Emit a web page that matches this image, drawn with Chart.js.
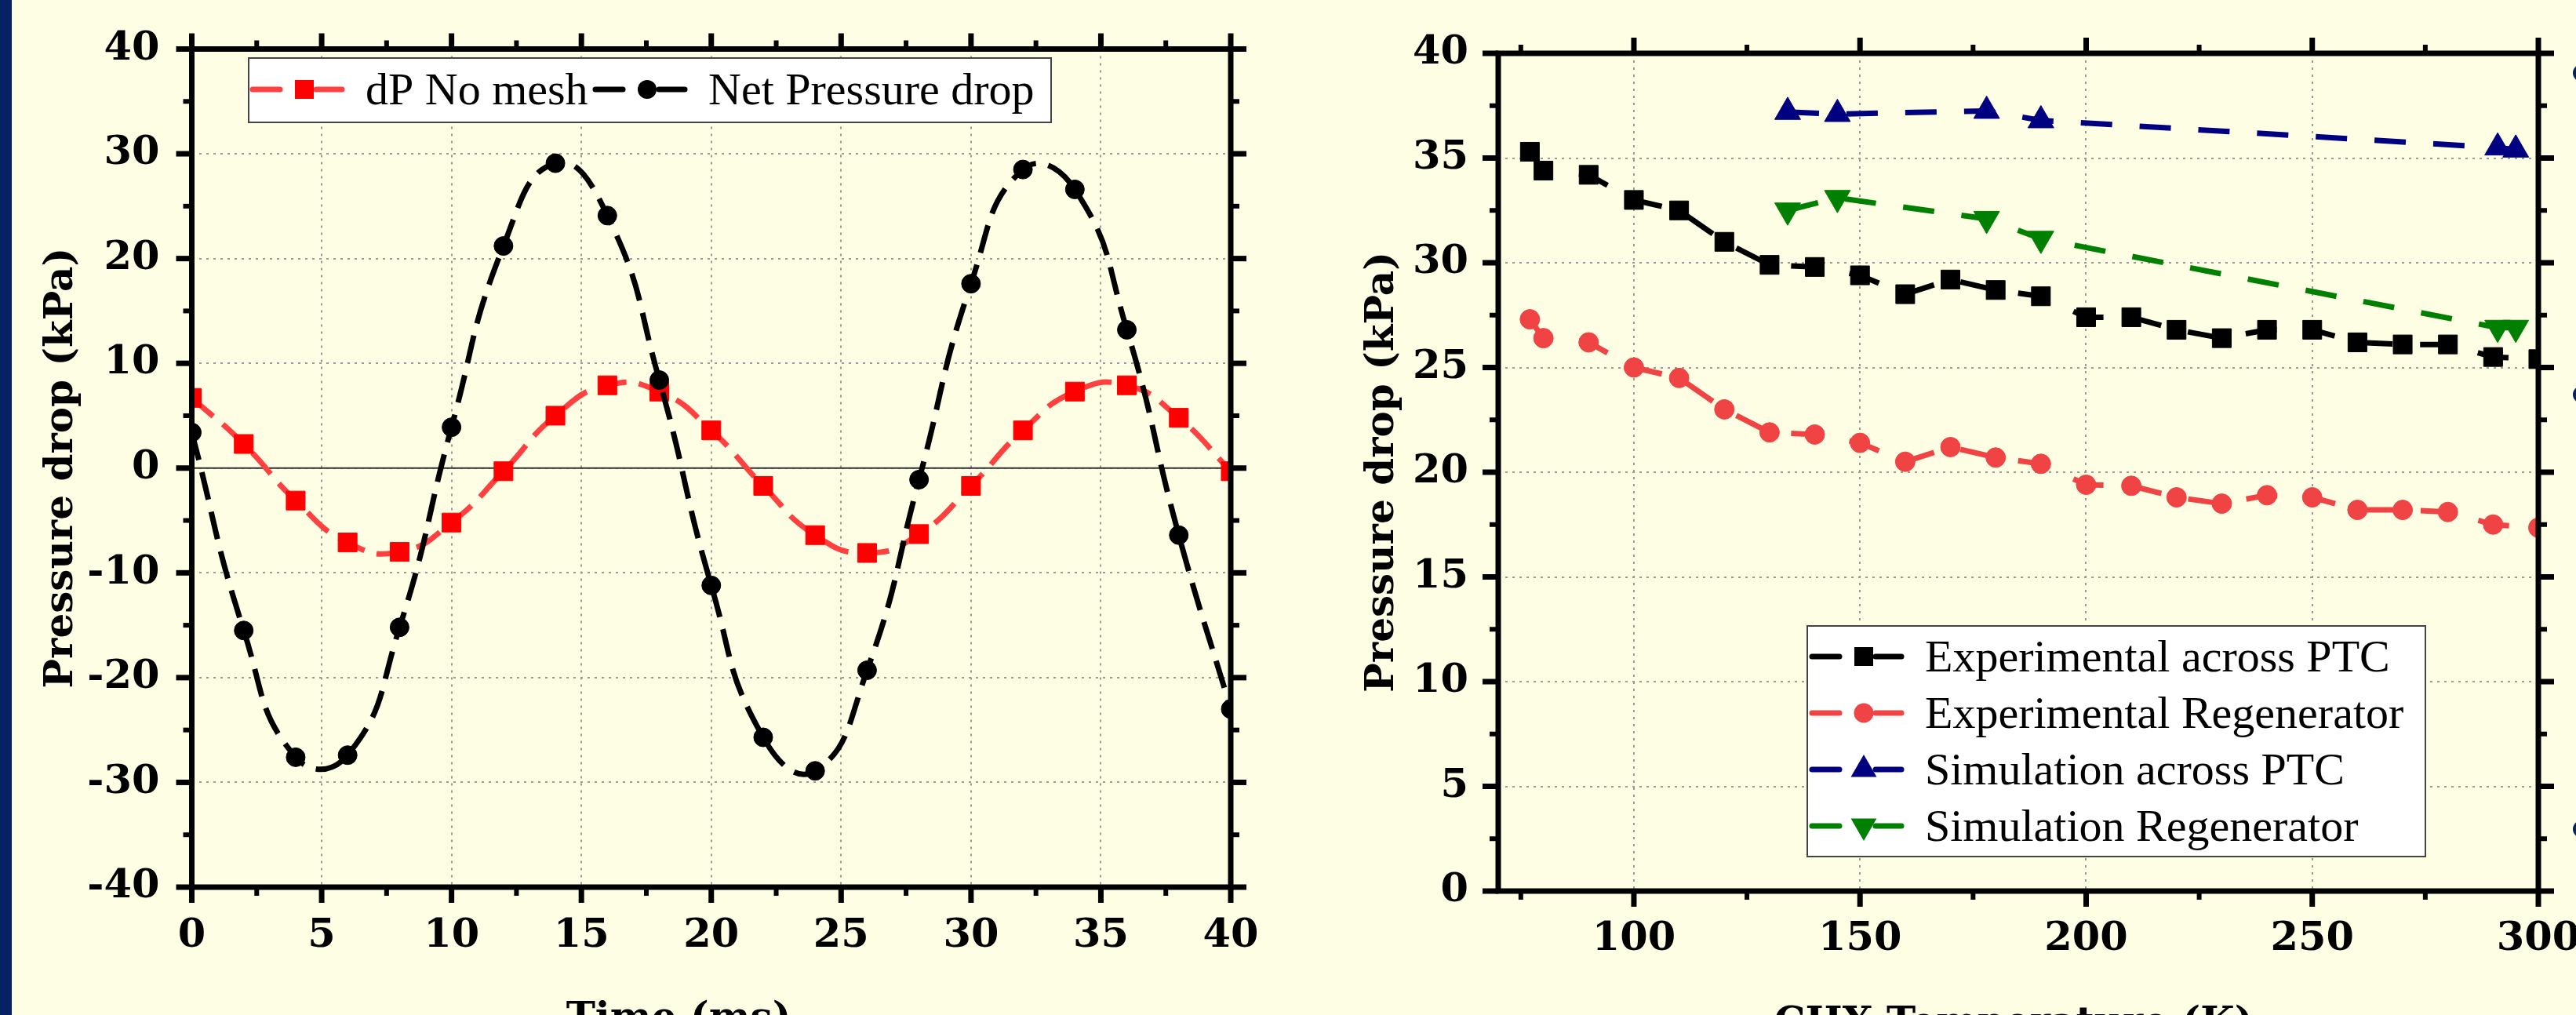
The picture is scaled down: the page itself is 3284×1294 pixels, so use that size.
<!DOCTYPE html>
<html>
<head>
<meta charset="utf-8">
<title>Pressure drop</title>
<script src="https://cdn.jsdelivr.net/npm/chart.js@4.4.1/dist/chart.umd.min.js"></script>
<style>
  html, body { margin: 0; padding: 0; width: 3284px; height: 1294px; overflow: hidden; background: #FEFEE5; }
  canvas { position: absolute; top: 0; }
  #timeChart { left: 0; }
  #tempChart { left: 1642px; }
  #strip { position: absolute; left: 0; top: 0; width: 15px; height: 1294px; background: #082163; }
  .bullet { position: absolute; left: 3280px; width: 22px; height: 22px; border-radius: 50%; background: #082163; }
</style>
</head>
<body>
<canvas id="timeChart" width="1642" height="1294"></canvas>
<canvas id="tempChart" width="1642" height="1294"></canvas>
<div id="strip"></div>
<div class="bullet" style="top:82px"></div>
<div class="bullet" style="top:492px"></div>
<div class="bullet" style="top:1046px"></div>
<script>
// left chart: pressure drop vs time
const timeMs = [0, 2, 4, 6, 8, 10, 12, 14, 16, 18, 20, 22, 24, 26, 28, 30, 32, 34, 36, 38, 40];
const dpNoMesh = [6.7, 2.3, -3.1, -7.1, -8.0, -5.2, -0.3, 5.0, 7.9, 7.3, 3.6, -1.7, -6.4, -8.1, -6.3, -1.7, 3.6, 7.3, 7.9, 4.8, -0.3];
const netPressureDrop = [3.4, -15.5, -27.6, -27.4, -15.2, 3.9, 21.2, 29.1, 24.1, 8.4, -11.2, -25.7, -28.9, -19.3, -1.1, 17.6, 28.5, 26.6, 13.2, -6.4, -23.0];
const timeTicks = [0, 5, 10, 15, 20, 25, 30, 35, 40];
const timeMinor = [2.5, 7.5, 12.5, 17.5, 22.5, 27.5, 32.5, 37.5];
const dpTicks = [-40, -30, -20, -10, 0, 10, 20, 30, 40];
const dpMinor = [-35, -25, -15, -5, 5, 15, 25, 35];

// right chart: pressure drop vs CHX temperature
const chxTempExp = [77, 80, 90, 100, 110, 120, 130, 140, 150, 160, 170, 180, 190, 200, 210, 220, 230, 240, 250, 260, 270, 280, 290, 300];
const expAcrossPTC = [35.3, 34.4, 34.2, 33.0, 32.5, 31.0, 29.9, 29.8, 29.4, 28.5, 29.2, 28.7, 28.4, 27.4, 27.4, 26.8, 26.4, 26.8, 26.8, 26.2, 26.1, 26.1, 25.5, 25.4];
const expRegenerator = [27.3, 26.4, 26.2, 25.0, 24.5, 23.0, 21.9, 21.8, 21.4, 20.5, 21.2, 20.7, 20.4, 19.4, 19.35, 18.8, 18.5, 18.9, 18.8, 18.2, 18.2, 18.1, 17.5, 17.35];
const chxTempSim = [134, 145, 178, 190, 291, 295];
const simAcrossPTC = [37.2, 37.1, 37.25, 36.8, 35.5, 35.4];
const simRegenerator = [32.5, 33.1, 32.1, 31.15, 26.9, 26.9];
const tempTicks = [100, 150, 200, 250, 300];
const tempMinor = [75, 125, 175, 225, 275];
const kpaTicks = [0, 5, 10, 15, 20, 25, 30, 35, 40];
const kpaMinor = [2.5, 7.5, 12.5, 17.5, 22.5, 27.5, 32.5, 37.5];

const yTitle = 'Pressure drop (kPa)';
const timeTitle = 'Time (ms)';
const tempTitle = 'CHX Temperature (K)';

const tickFont = { family: 'DejaVu Serif', size: 51, weight: 'bold' };
const gridStyle = { color: '#9a9a9a', lineWidth: 2, drawTicks: false };

function pts(xs, ys) { return xs.map((x, i) => ({ x: x, y: ys[i] })); }

function drawMarker(ctx, style, x, y, r, rot, color) {
  ctx.save();
  ctx.fillStyle = color;
  ctx.beginPath();
  if (style === 'rect') {
    const s = r * Math.SQRT1_2;
    ctx.rect(x - s, y - s, 2 * s, 2 * s);
  } else if (style === 'triangle') {
    let a = rot * Math.PI / 180;
    for (let i = 0; i < 3; i++) {
      const px = x + Math.sin(a) * r, py = y - Math.cos(a) * r;
      if (i) ctx.lineTo(px, py); else ctx.moveTo(px, py);
      a += 2 * Math.PI / 3;
    }
    ctx.closePath();
  } else {
    ctx.arc(x, y, r, 0, 2 * Math.PI);
  }
  ctx.fill();
  ctx.restore();
}

// frame with outward ticks on all four sides, axis titles, boxed legend
const framePlugin = {
  id: 'frame',
  beforeDatasetsDraw(chart, args, o) {
    if (o.zeroLine === undefined) return;
    const { ctx, chartArea: a } = chart;
    const py = chart.scales.y.getPixelForValue(o.zeroLine);
    ctx.save();
    ctx.strokeStyle = '#333';
    ctx.lineWidth = 2;
    ctx.beginPath(); ctx.moveTo(a.left, py); ctx.lineTo(a.right, py); ctx.stroke();
    ctx.restore();
  },
  afterDraw(chart, args, o) {
    const { ctx, chartArea: a } = chart;
    const xs = chart.scales.x, ys = chart.scales.y;
    const seg = (x1, y1, x2, y2, w) => {
      ctx.lineWidth = w;
      ctx.beginPath(); ctx.moveTo(x1, y1); ctx.lineTo(x2, y2); ctx.stroke();
    };
    ctx.save();
    ctx.strokeStyle = '#000';
    ctx.lineCap = 'butt';
    o.xMajor.forEach(v => { const p = xs.getPixelForValue(v); seg(p, a.top, p, a.top - 20, 7); seg(p, a.bottom, p, a.bottom + 20, 7); });
    o.xMinor.forEach(v => { const p = xs.getPixelForValue(v); seg(p, a.top, p, a.top - 11, 6); seg(p, a.bottom, p, a.bottom + 11, 6); });
    o.yMajor.forEach(v => { const p = ys.getPixelForValue(v); seg(a.left, p, a.left - 20, p, 7); seg(a.right, p, a.right + 20, p, 7); });
    o.yMinor.forEach(v => { const p = ys.getPixelForValue(v); seg(a.left, p, a.left - 11, p, 6); seg(a.right, p, a.right + 11, p, 6); });
    ctx.lineWidth = 7;
    ctx.strokeRect(a.left, a.top, a.right - a.left, a.bottom - a.top);

    // axis titles
    ctx.fillStyle = '#000';
    ctx.font = 'bold 50px "DejaVu Serif"';
    ctx.textAlign = 'center';
    ctx.textBaseline = 'alphabetic';
    ctx.fillText(o.xTitle.text, o.xTitle.x, o.xTitle.y);
    ctx.save();
    ctx.translate(o.yTitle.x, (a.top + a.bottom) / 2);
    ctx.rotate(-Math.PI / 2);
    ctx.fillText(o.yTitle.text, 0, 0);
    ctx.restore();

    // legend
    const L = o.legend;
    ctx.fillStyle = '#fff';
    ctx.fillRect(L.box[0], L.box[1], L.box[2], L.box[3]);
    ctx.strokeStyle = '#444';
    ctx.lineWidth = 2;
    ctx.strokeRect(L.box[0], L.box[1], L.box[2], L.box[3]);
    L.items.forEach(it => {
      const ds = chart.data.datasets[it.ds];
      ctx.strokeStyle = ds.borderColor;
      ctx.lineCap = 'round';
      seg(it.x0 + 3, it.y, it.x0 + 38, it.y, ds.borderWidth);
      seg(it.x0 + 84, it.y, it.x0 + 117, it.y, ds.borderWidth);
      drawMarker(ctx, ds.pointStyle, it.x0 + 69, it.y, ds.pointRadius, ds.pointRotation || 0, ds.pointBackgroundColor);
      ctx.fillStyle = '#000';
      ctx.font = '58px "Liberation Serif"';
      ctx.textAlign = 'left';
      ctx.fillText(ds.label, it.x0 + 147, it.y + 19);
    });
    ctx.restore();
  }
};

function series(label, xs, ys, color, markerColor, style, radius, dash, extra) {
  return Object.assign({
    label: label,
    data: pts(xs, ys),
    borderColor: color,
    borderWidth: 7,
    borderDash: dash,
    pointStyle: style,
    pointRadius: radius,
    pointBackgroundColor: markerColor,
    pointBorderColor: markerColor,
    pointBorderWidth: 1,
    fill: false
  }, extra || {});
}

// fixed axis sizes so the plot area sits where the reference has it
function fixY(width) {
  return s => { s.width = width; s.paddingTop = 0; s.paddingBottom = 0; };
}
function fixX(height) {
  return s => { s.height = height; s.paddingLeft = 0; s.paddingRight = 0; };
}

new Chart(document.getElementById('timeChart'), {
  type: 'line',
  data: {
    datasets: [
      series('dP No mesh', timeMs, dpNoMesh, 'rgb(255,64,64)', '#ff0000', 'rect', 17, [36, 16], { tension: 0.5, order: 1 }),
      series('Net Pressure drop', timeMs, netPressureDrop, '#000000', '#000000', 'circle', 12, [36, 16], { tension: 0.5, order: 0 })
    ]
  },
  options: {
    responsive: false,
    animation: false,
    events: [],
    devicePixelRatio: 1,
    layout: { padding: { left: 0, top: 62.5, right: 73, bottom: 63 } },
    scales: {
      x: {
        type: 'linear', min: 0, max: 40,
        afterBuildTicks: s => { s.ticks = timeTicks.map(v => ({ value: v })); },
        afterFit: fixX(100),
        grid: gridStyle,
        border: { display: false, dash: [3, 6] },
        ticks: { font: tickFont, color: '#000', padding: 32, maxRotation: 0 }
      },
      y: {
        type: 'linear', min: -40, max: 40,
        afterBuildTicks: s => { s.ticks = dpTicks.map(v => ({ value: v })); },
        afterFit: fixY(244.5),
        grid: gridStyle,
        border: { display: false, dash: [3, 6] },
        ticks: { font: tickFont, color: '#000', padding: 41 }
      }
    },
    plugins: {
      legend: { display: false },
      tooltip: { enabled: false },
      frame: {
        zeroLine: 0,
        xMajor: timeTicks, xMinor: timeMinor, yMajor: dpTicks, yMinor: dpMinor,
        xTitle: { text: timeTitle, x: 865, y: 1313 },
        yTitle: { text: yTitle, x: 92 },
        legend: {
          box: [317, 74, 1023, 82],
          items: [{ ds: 0, x0: 319, y: 114 }, { ds: 1, x0: 756, y: 114 }]
        }
      }
    }
  },
  plugins: [framePlugin]
});

new Chart(document.getElementById('tempChart'), {
  type: 'line',
  data: {
    datasets: [
      series('Experimental across PTC', chxTempExp, expAcrossPTC, '#000000', '#000000', 'rect', 17, [40, 35]),
      series('Experimental Regenerator', chxTempExp, expRegenerator, 'rgb(240,68,68)', 'rgb(240,68,68)', 'circle', 12.5, [40, 35]),
      series('Simulation across PTC', chxTempSim, simAcrossPTC, '#000080', '#000080', 'triangle', 19, [40, 35]),
      series('Simulation Regenerator', chxTempSim, simRegenerator, '#008000', '#008000', 'triangle', 19, [40, 35], { pointRotation: 180 })
    ]
  },
  options: {
    responsive: false,
    animation: false,
    events: [],
    devicePixelRatio: 1,
    layout: { padding: { left: 0, top: 68, right: 48, bottom: 58 } },
    scales: {
      x: {
        type: 'linear', min: 70, max: 300,
        afterBuildTicks: s => { s.ticks = tempTicks.map(v => ({ value: v })); },
        afterFit: fixX(100),
        grid: gridStyle,
        border: { display: false, dash: [3, 6] },
        ticks: { font: tickFont, color: '#000', padding: 31, maxRotation: 0 }
      },
      y: {
        type: 'linear', min: 0, max: 40,
        afterBuildTicks: s => { s.ticks = kpaTicks.map(v => ({ value: v })); },
        afterFit: fixY(268),
        grid: gridStyle,
        border: { display: false, dash: [3, 6] },
        ticks: { font: tickFont, color: '#000', padding: 38 }
      }
    },
    plugins: {
      legend: { display: false },
      tooltip: { enabled: false },
      frame: {
        xMajor: tempTicks, xMinor: tempMinor, yMajor: kpaTicks, yMinor: kpaMinor,
        xTitle: { text: tempTitle, x: 925, y: 1319 },
        yTitle: { text: yTitle, x: 134 },
        legend: {
          box: [662, 798, 788, 294],
          items: [
            { ds: 0, x0: 665, y: 837 },
            { ds: 1, x0: 665, y: 909 },
            { ds: 2, x0: 665, y: 981 },
            { ds: 3, x0: 665, y: 1053 }
          ]
        }
      }
    }
  },
  plugins: [framePlugin]
});
</script>
</body>
</html>
